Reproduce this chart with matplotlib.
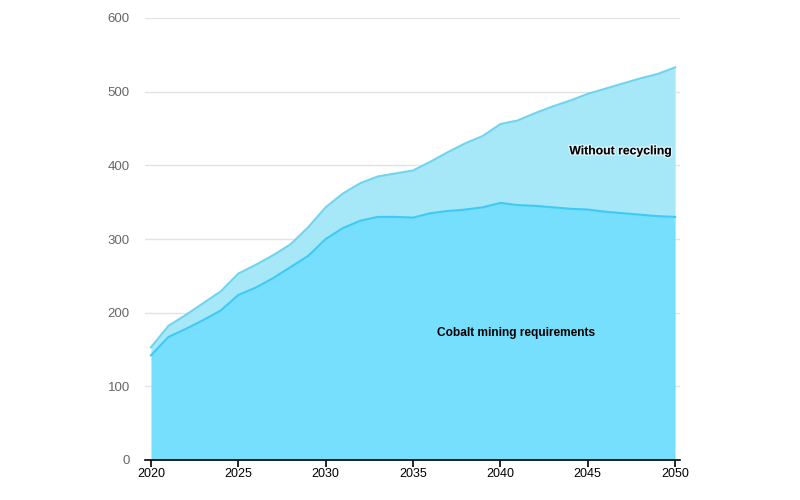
import matplotlib
matplotlib.use("Agg")
import matplotlib.pyplot as plt
import matplotlib.patheffects as pe

years = list(range(2020, 2051))
without_recycling = [153, 182, 197, 213, 229, 253, 265, 278, 293, 316, 343, 362, 376, 385, 389, 393,
                     405, 418, 430, 440, 456, 461, 471, 480, 488, 497, 504, 511, 518, 524, 533]
mining_requirements = [142, 167, 178, 190, 203, 224, 234, 247, 262, 277, 300, 315, 325, 330, 330, 329,
                       335, 338, 340, 343, 349, 346, 345, 343, 341, 340, 337, 335, 333, 331, 330]
y_ticks = [0, 100, 200, 300, 400, 500, 600]
x_ticks = [2020, 2025, 2030, 2035, 2040, 2045, 2050]

plt.rcParams['font.family'] = ['Liberation Sans', 'DejaVu Sans']

fig = plt.figure(figsize=(8, 5), dpi=100)
ax = fig.add_axes([145/800, 40/500, 535/800, 442/500])

ax.fill_between(years, mining_requirements, without_recycling, color='#A6E7F8', lw=0, zorder=2)
ax.fill_between(years, 0, mining_requirements, color='#76DFFE', lw=0, zorder=2)
ax.plot(years, without_recycling, color='#6FD4F0', lw=1.5, zorder=3)
ax.plot(years, mining_requirements, color='#3EC9F6', lw=1.5, zorder=3)

ax.set_xlim(2019.66, 2050.28)
ax.set_ylim(0, 600)
ax.set_yticks(y_ticks)
ax.set_xticks(x_ticks)
ax.grid(axis='y', color='#E3E3E3', lw=1, zorder=0)
ax.set_axisbelow(True)
for s in ['top', 'right', 'left']:
    ax.spines[s].set_visible(False)
ax.spines['bottom'].set_color('black')
ax.spines['bottom'].set_linewidth(1.2)
ax.spines['bottom'].set_zorder(5)
ax.tick_params(axis='y', length=0, labelsize=9.5, labelcolor='#666666', pad=11)
ax.tick_params(axis='x', length=5, width=1.2, color='black', labelsize=9, labelcolor='black', pad=1)

halo = [pe.withStroke(linewidth=2, foreground=(1, 1, 1, 0.6))]
ax.text(2046.9, 419, 'Without recycling', fontsize=8.8, fontweight='bold', color='black',
        ha='center', va='center', path_effects=halo, zorder=6)
ax.text(2040.9, 172, 'Cobalt mining requirements', fontsize=8.6, fontweight='bold', color='black',
        ha='center', va='center', zorder=6)

fig.savefig('out.png', dpi=100)
